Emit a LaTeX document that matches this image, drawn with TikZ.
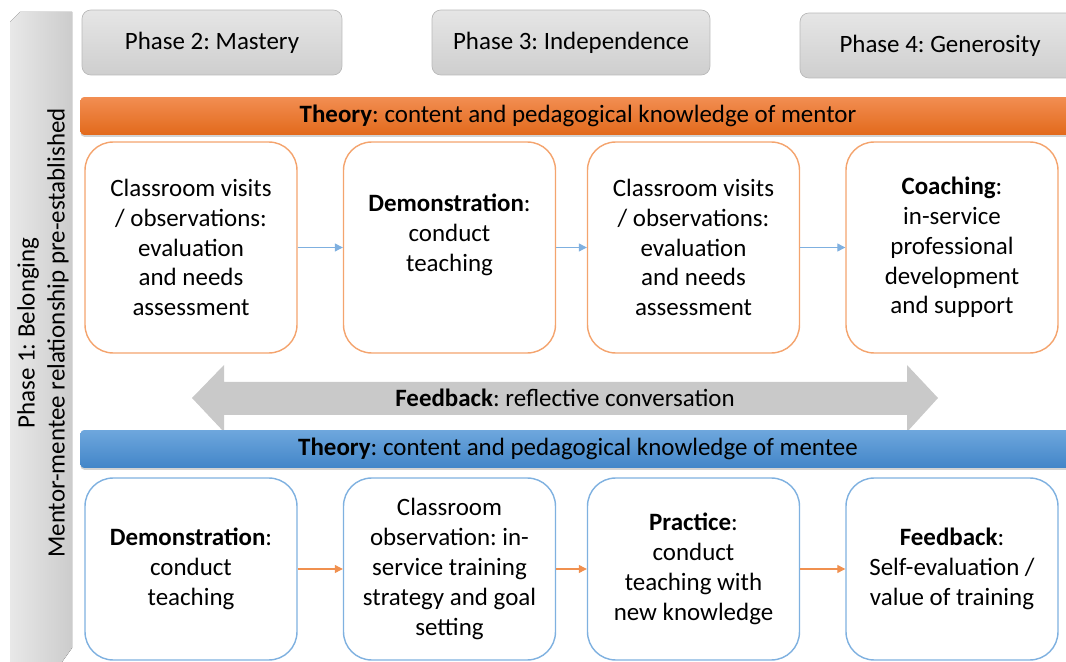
\documentclass[tikz,border=0pt]{standalone}
\usepackage{fontspec}
\setmainfont{Carlito}
\usepackage{xcolor}
\usetikzlibrary{arrows.meta,shadows}

\definecolor{mentorline}{HTML}{F4A46E}
\definecolor{menteeline}{HTML}{7FB1E0}
\definecolor{mentortop}{HTML}{F28E52}
\definecolor{mentorbot}{HTML}{E2691B}
\definecolor{menteetop}{HTML}{6EA7DD}
\definecolor{menteebot}{HTML}{4285C8}
\definecolor{topflow}{HTML}{7FB0E0}
\definecolor{botflow}{HTML}{F0904F}

\begin{document}
\frenchspacing
\begin{tikzpicture}[x=0.02cm, y=-0.02cm,
    font=\fontsize{14.2}{17}\selectfont,
    phase/.style = {draw=gray!55, rounded corners=5pt, top color=gray!20, bottom color=gray!38, minimum height=1.3cm},
    bar/.style = {rounded corners=2pt, minimum width=19.9cm, minimum height=0.76cm,
        drop shadow={shadow xshift=0pt, shadow yshift=-1pt, opacity=0.35}},
    mentor/.style = {draw=mentorline, rounded corners=16pt, thick, fill=white, align=center,
        minimum width=4.24cm, minimum height=4.22cm},
    mentee/.style = {draw=menteeline, rounded corners=16pt, thick, fill=white, align=center,
        minimum width=4.24cm, minimum height=3.64cm},
    flow/.style = {line width=0.6pt, -{Triangle[length=4.5pt,width=4.5pt]}}]

  \clip[use as bounding box] (0,0) rectangle (1066,662);

  % phase 1 runs down the left side
  \fill[left color=gray!18, right color=gray!40]
    (10,22) -- (20,12) -- (72,12) -- (72,648) -- (62,662) -- (10,662) -- cycle;
  \node[rotate=90, align=center] (p1) at (43,333)
    {Phase 1: Belonging\\Mentor-mentee relationship pre-established};

  % phases 2 to 4
  \node[phase, minimum width=5.2cm] (p2) at (212,42.5) {Phase 2: Mastery};
  \node[phase, minimum width=5.56cm] (p3) at (571,42.5) {Phase 3: Independence};
  \node[phase, minimum width=5.6cm] (p4) at (940,45.5) {Phase 4: Generosity};

  % mentor row
  \node[bar, top color=mentortop, bottom color=mentorbot] (th1) at (578,116)
    {\textbf{Theory}: content and pedagogical knowledge of mentor};

  \node[mentor] (t1) at (191,247.5)
    {Classroom visits\\/ observations:\\evaluation\\and needs\\assessment};
  \node[mentor] (t2) at (449.5,247.5)
    {\textbf{Demonstration}:\\conduct\\teaching\\~};
  \node[mentor] (t3) at (693.5,247.5)
    {Classroom visits\\/ observations:\\evaluation\\and needs\\assessment};
  \node[mentor] (t4) at (952,247.5)
    {\textbf{Coaching}:\\in-service\\professional\\development\\and support};

  \path[flow, color=topflow]
  (t1) edge (t2)
  (t2) edge (t3)
  (t3) edge (t4)
  ;

  % feedback between the two rows
  \fill[gray!42] (192,398) -- (224,365) -- (224,382) -- (907,382) -- (907,365)
    -- (938,398) -- (907,432) -- (907,415) -- (224,415) -- (224,432) -- cycle;
  \node (fb) at (565,398) {\textbf{Feedback}: reflective conversation};

  % mentee row
  \node[bar, top color=menteetop, bottom color=menteebot] (th2) at (578,449)
    {\textbf{Theory}: content and pedagogical knowledge of mentee};

  \node[mentee] (b1) at (191,569)
    {\textbf{Demonstration}:\\conduct\\teaching};
  \node[mentee] (b2) at (449.5,569)
    {Classroom\\observation: in-\\service training\\strategy and goal\\setting};
  \node[mentee] (b3) at (693.5,569)
    {\textbf{Practice}:\\conduct\\teaching with\\new knowledge};
  \node[mentee] (b4) at (952,569)
    {\textbf{Feedback}:\\Self-evaluation /\\value of training};

  \path[flow, color=botflow]
  (b1) edge (b2)
  (b2) edge (b3)
  (b3) edge (b4)
  ;
\end{tikzpicture}
\end{document}
